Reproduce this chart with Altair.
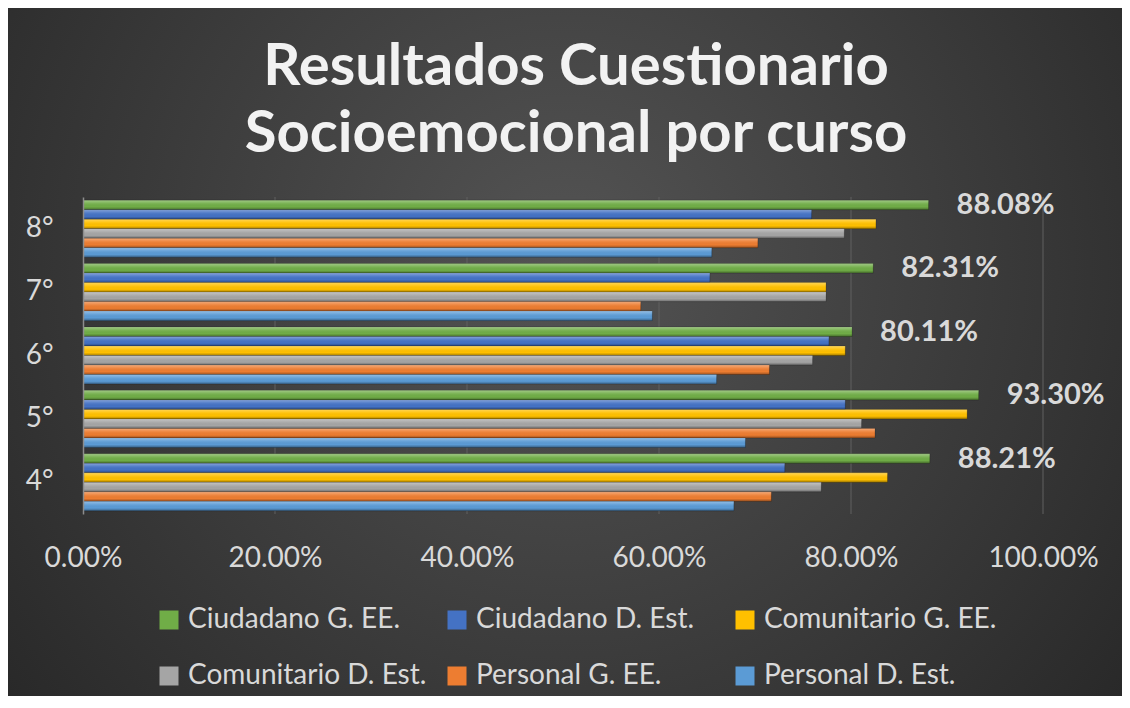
import altair as alt
import pandas as pd

titulo = ["Resultados Cuestionario", "Socioemocional por curso"]
cursos = ["8°", "7°", "6°", "5°", "4°"]
series = ["Ciudadano G. EE.", "Ciudadano D. Est.", "Comunitario G. EE.",
          "Comunitario D. Est.", "Personal G. EE.", "Personal D. Est."]
colores = ["#70ad47", "#4472c4", "#ffc000", "#a5a5a5", "#ed7d31", "#5b9bd5"]
ticks_x = [0.0, 0.2, 0.4, 0.6, 0.8, 1.0]

# values per series, in the order of cursos (8°, 7°, 6°, 5°, 4°)
ciudadano_ge = [0.8808, 0.8231, 0.8011, 0.9330, 0.8821]
ciudadano_de = [0.759, 0.653, 0.777, 0.794, 0.731]
comunitario_ge = [0.826, 0.774, 0.794, 0.921, 0.838]
comunitario_de = [0.793, 0.774, 0.760, 0.811, 0.769]
personal_ge = [0.703, 0.581, 0.715, 0.825, 0.717]
personal_de = [0.655, 0.593, 0.660, 0.690, 0.678]

valores = [ciudadano_ge, ciudadano_de, comunitario_ge,
           comunitario_de, personal_ge, personal_de]

rows = []
for s, vals in zip(series, valores):
    for c, v in zip(cursos, vals):
        rows.append({"curso": c, "serie": s, "valor": v})
df = pd.DataFrame(rows)
grid_df = pd.DataFrame({"valor": ticks_x[1:]})

FONT = "Lato"
TXT = "#d9d9d9"
W, H = 960, 317

y_enc = alt.Y("curso:N", sort=cursos, title=None,
              scale=alt.Scale(paddingInner=0.1, paddingOuter=0.05),
              axis=alt.Axis(labelFont=FONT, labelFontSize=28, labelColor=TXT,
                            labelPadding=30, ticks=False, domain=True,
                            domainColor="#8c8c8c", domainWidth=1.5, grid=False,
                            zindex=1))
x_enc = alt.X("valor:Q", title=None,
              scale=alt.Scale(domain=[0, 1], nice=False),
              axis=alt.Axis(format=".2%", values=ticks_x, labelFlush=False,
                            labelFont=FONT, labelFontSize=28, labelColor=TXT,
                            labelPadding=30, ticks=False, domain=False,
                            grid=False, zindex=1))
yoff = alt.YOffset("serie:N", sort=series,
                   scale=alt.Scale(paddingInner=0.0, paddingOuter=0.0))

bg = alt.Chart(alt.Data(values=[{}])).mark_rect(
    fill=alt.RadialGradient(
        gradient="radial", x1=0.5, y1=0.42, x2=0.5, y2=0.42, r1=0, r2=0.75,
        stops=[alt.GradientStop(offset=0, color="#545454"),
               alt.GradientStop(offset=1, color="#212121")]),
).encode(x=alt.value(-75), x2=alt.value(1039), y=alt.value(-189), y2=alt.value(499))

title = alt.Chart(alt.Data(values=[{"t": "\n".join(titulo)}])).mark_text(
    align="center", baseline="alphabetic", font=FONT, fontSize=58,
    fontWeight="bold", color="#f2f2f2", lineBreak="\n", lineHeight=67,
).encode(x=alt.value(493), y=alt.value(-112), text="t:N")

grid = alt.Chart(grid_df).mark_rule(color="#606060", strokeWidth=1).encode(
    x=x_enc, y=alt.value(0), y2=alt.value(H))

shadow = alt.Chart(df).mark_bar(color="black", opacity=0.45, yOffset=4,
                                x2Offset=3).encode(
    x=x_enc, y=y_enc, yOffset=yoff)

bars = alt.Chart(df).mark_bar(stroke="#00000055", strokeWidth=0.6).encode(
    x=x_enc, y=y_enc, yOffset=yoff,
    color=alt.Color("serie:N", sort=series,
                    scale=alt.Scale(domain=series, range=colores),
                    legend=alt.Legend(title=None, orient="none", legendX=72, legendY=409,
                                      direction="horizontal", columns=3,
                                      gridAlign="all",
                                      symbolType="square", symbolSize=361,
                                      symbolStrokeWidth=0, labelFont=FONT,
                                      labelFontSize=28, labelColor=TXT,
                                      labelLimit=500, labelOffset=5,
                                      columnPadding=16, rowPadding=28,
                                      symbolOpacity=1)),
)

gloss = alt.Chart(df).mark_bar(
    fill=alt.LinearGradient(
        gradient="linear", x1=0, y1=0, x2=0, y2=1,
        stops=[alt.GradientStop(offset=0, color="rgba(255,255,255,0.35)"),
               alt.GradientStop(offset=0.35, color="rgba(255,255,255,0.08)"),
               alt.GradientStop(offset=0.7, color="rgba(0,0,0,0.0)"),
               alt.GradientStop(offset=1, color="rgba(0,0,0,0.35)")]),
).encode(x=x_enc, y=y_enc, yOffset=yoff)

labels = alt.Chart(df).transform_filter(
    alt.datum.serie == series[0]
).mark_text(align="left", baseline="middle", dx=28, font=FONT, fontSize=29,
            fontWeight="bold", color=TXT).encode(
    x="valor:Q", y=alt.Y("curso:N", sort=cursos), yOffset=yoff,
    text=alt.Text("valor:Q", format=".2%"))

chart = alt.layer(bg, title, grid, shadow, bars, gloss, labels).properties(
    width=W, height=H, padding=0,
).configure_view(stroke=None).configure(background="white")

chart.save("out.html", embed_options={"renderer": "svg", "actions": False})
